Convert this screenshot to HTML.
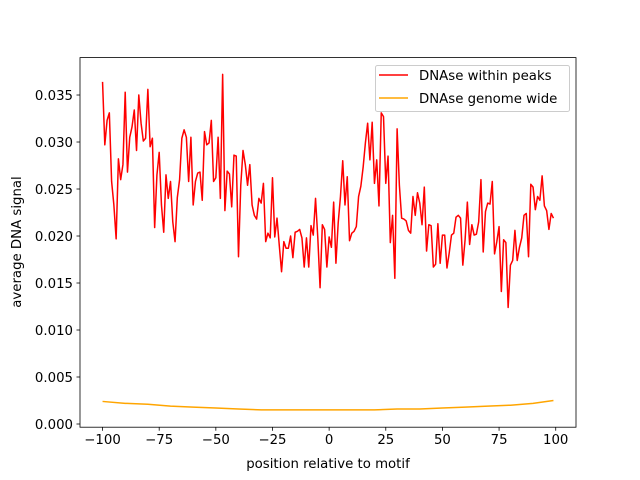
<!DOCTYPE html>
<html><head><meta charset="utf-8"><style>
body{margin:0;background:#fff}
svg{display:block;font-family:"DejaVu Sans","Liberation Sans",sans-serif}
</style></head><body>
<svg id="chart" width="640" height="480" viewBox="0 0 640 480" xmlns="http://www.w3.org/2000/svg">
<rect width="640" height="480" fill="#fff"/>
<g id="plot"></g>
<g id="axes"></g>
<text x="328" y="468" font-size="13.3" text-anchor="middle">position relative to motif</text>
<text transform="translate(21,242) rotate(-90)" font-size="13.3" text-anchor="middle">average DNA signal</text>
<g>
<rect x="375.5" y="65.5" width="194" height="46" rx="2" fill="#fff" fill-opacity="0.8" stroke="#ccc"/>
<line x1="379" y1="75" x2="408" y2="75" stroke="#ff0000" stroke-width="1.5"/>
<text x="419" y="80" font-size="13.3">DNAse within peaks</text>
<line x1="379" y1="98" x2="408" y2="98" stroke="#ffa500" stroke-width="1.5"/>
<text x="419" y="103" font-size="13.3">DNAse genome wide</text>
</g>
</svg>
<script>
const peakValues=[0.0364,0.0297,0.0323,0.0331,0.0258,0.0233,0.0197,0.0282,0.0260,0.0276,
0.0353,0.0268,0.0305,0.0316,0.0334,0.0291,0.0350,0.0320,0.0301,0.0304,
0.0356,0.0295,0.0304,0.0209,0.0265,0.0289,0.0233,0.0204,0.0265,0.0240,
0.0258,0.0215,0.0194,0.0241,0.0260,0.0304,0.0313,0.0305,0.0258,0.0305,
0.0233,0.0258,0.0267,0.0268,0.0238,0.0311,0.0297,0.0299,0.0323,0.0258,
0.0262,0.0305,0.0240,0.0372,0.0227,0.0269,0.0266,0.0231,0.0286,0.0285,
0.0178,0.0254,0.0291,0.0276,0.0254,0.0276,0.0233,0.0222,0.0218,0.0240,
0.0235,0.0256,0.0194,0.0203,0.0198,0.0262,0.0199,0.0219,0.0190,0.0162,
0.0194,0.0187,0.0187,0.0200,0.0177,0.0204,0.0205,0.0207,0.0198,0.0167,
0.0198,0.0167,0.0211,0.0201,0.0240,0.0198,0.0145,0.0212,0.0207,0.0167,
0.0199,0.0188,0.0236,0.0171,0.0214,0.0242,0.0280,0.0233,0.0263,0.0195,
0.0203,0.0205,0.0210,0.0242,0.0253,0.0273,0.0299,0.0320,0.0281,0.0321,
0.0256,0.0281,0.0232,0.0331,0.0327,0.0256,0.0285,0.0193,0.0222,0.0155,
0.0314,0.0254,0.0219,0.0218,0.0216,0.0206,0.0203,0.0242,0.0222,0.0246,
0.0235,0.0212,0.0252,0.0184,0.0212,0.0211,0.0167,0.0170,0.0213,0.0171,
0.0201,0.0201,0.0166,0.0182,0.0201,0.0203,0.0220,0.0222,0.0219,0.0169,
0.0196,0.0236,0.0191,0.0212,0.0201,0.0202,0.0215,0.0260,0.0183,0.0226,
0.0235,0.0234,0.0258,0.0181,0.0194,0.0210,0.0141,0.0196,0.0193,0.0124,
0.0169,0.0174,0.0206,0.0174,0.0188,0.0198,0.0222,0.0224,0.0178,0.0255,
0.0252,0.0228,0.0242,0.0238,0.0264,0.0232,0.0227,0.0207,0.0224,0.0219];
const peakStart=-100;
const genomePositions=[-100,-90,-80,-70,-60,-50,-40,-30,-20,-10,0,10,20,30,40,50,60,70,80,90,99];
const genomeValues=[0.0024,0.0022,0.0021,0.0019,0.0018,0.0017,0.0016,0.0015,0.0015,0.0015,0.0015,0.0015,0.0015,0.0016,0.0016,0.0017,0.0018,0.0019,0.0020,0.0022,0.0025];
const xTicks=[-100,-75,-50,-25,0,25,50,75,100];
const yTicks=[0,0.005,0.010,0.015,0.020,0.025,0.030,0.035];
const yTickLabels=["0.000","0.005","0.010","0.015","0.020","0.025","0.030","0.035"];

const L=80,R=576,T=57.6,B=427.2;
const xmin=-109.95,xmax=108.95;
const ymin=-0.00034,ymax=0.03898;
const xs=v=>L+(v-xmin)/(xmax-xmin)*(R-L);
const ys=v=>B-(v-ymin)/(ymax-ymin)*(B-T);
const NS="http://www.w3.org/2000/svg";
function mk(tag,attrs,parent){const e=document.createElementNS(NS,tag);for(const k in attrs)e.setAttribute(k,attrs[k]);parent.appendChild(e);return e;}
const plot=document.getElementById('plot'),axes=document.getElementById('axes');

let d1=peakValues.map((v,i)=>(i?'L':'M')+xs(peakStart+i).toFixed(2)+','+ys(v).toFixed(2)).join('');
const p1=mk('path',{d:d1,fill:'none',stroke:'#ff0000','stroke-width':1.5,'stroke-linejoin':'round'},plot);


let d2=genomeValues.map((v,i)=>(i?'L':'M')+xs(genomePositions[i]).toFixed(2)+','+ys(v).toFixed(2)).join('');
const p2=mk('path',{d:d2,fill:'none',stroke:'#ffa500','stroke-width':1.5},plot);



const frame=mk('rect',{x:L,y:T,width:R-L,height:B-T,fill:'none',stroke:'#000','stroke-width':0.8},axes);


xTicks.forEach(t=>{
  const x=xs(t);
  const tk=mk('line',{x1:x,y1:B,x2:x,y2:B+3.5,stroke:'#000','stroke-width':0.8},axes);
  
  
  const tx=mk('text',{x:x,y:B+17,'font-size':13.3,'text-anchor':'middle'},axes);
  tx.textContent=(t<0?'\u2212'+(-t):String(t));
  
  
});
yTicks.forEach((t,i)=>{
  const y=ys(t);
  const tk=mk('line',{x1:L-3.5,y1:y,x2:L,y2:y,stroke:'#000','stroke-width':0.8},axes);
  
  
  const tx=mk('text',{x:L-7,y:y+4.8,'font-size':13.3,'text-anchor':'end'},axes);
  tx.textContent=yTickLabels[i];
  
  
});
</script>
</body></html>
